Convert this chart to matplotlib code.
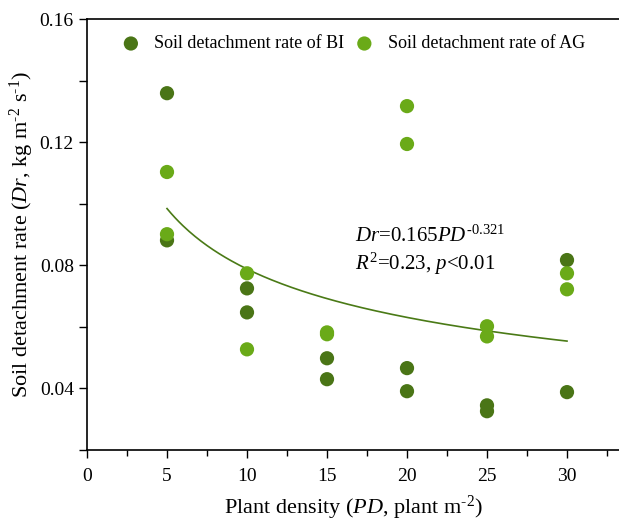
import numpy as np
import matplotlib.pyplot as plt
from matplotlib.ticker import MultipleLocator

plt.rcParams['font.family'] = 'Liberation Serif'
plt.rcParams['mathtext.fontset'] = 'custom'
plt.rcParams['mathtext.rm'] = 'Liberation Serif'
plt.rcParams['mathtext.it'] = 'Liberation Serif:italic'

# plant density (plants m-2) and measured detachment rates
bi_x = [5, 5, 10, 10, 15, 15, 20, 20, 25, 25, 30, 30]
bi_y = [0.1359, 0.0881, 0.0725, 0.0647, 0.0498, 0.0430,
        0.0466, 0.0391, 0.0345, 0.0326, 0.0817, 0.0388]
ag_x = [5, 5, 10, 10, 15, 15, 20, 20, 25, 25, 30, 30]
ag_y = [0.1103, 0.0901, 0.0774, 0.0527, 0.0582, 0.0576,
        0.1317, 0.1194, 0.0602, 0.0569, 0.0774, 0.0722]

# fitted power function Dr = a * PD^b
fit_a = 0.165
fit_b = -0.321

bi_col = '#4a7516'
ag_col = '#6aaa18'

fig = plt.figure(figsize=(6.19, 5.23), dpi=100)
ax = fig.add_axes([87/619, 1 - 450/523, 1 - 87/619, (450 - 19)/523])

ax.scatter(bi_x, bi_y, s=105, color=bi_col, edgecolors='none', zorder=3,
           label='Soil detachment rate of BI')
ax.scatter(ag_x, ag_y, s=105, color=ag_col, edgecolors='none', zorder=3,
           label='Soil detachment rate of AG')

xx = np.linspace(5, 30, 200)
ax.plot(xx, fit_a * xx ** fit_b, color='#4a7a16', lw=1.2, zorder=2)

ax.set_xlim(0, 33.25)
ax.set_ylim(0.02, 0.16)
ax.xaxis.set_major_locator(MultipleLocator(5))
ax.xaxis.set_minor_locator(MultipleLocator(2.5))
ax.yaxis.set_major_locator(MultipleLocator(0.04))
ax.yaxis.set_minor_locator(MultipleLocator(0.02))
ax.yaxis.set_major_formatter(plt.FuncFormatter(lambda v, p: '%.2f' % v))
ax.tick_params(which='major', direction='out', length=6, width=1, labelsize=14)
ax.tick_params(which='minor', direction='out', length=4, width=1)
ax.tick_params(axis='y', which='minor', length=6)
ax.tick_params(axis='x', pad=7)
ax.spines['right'].set_visible(False)
for s in ['left', 'bottom', 'top']:
    ax.spines[s].set_linewidth(1.2)

ax.set_xlabel('Plant density ($\\mathit{PD}$, plant m$^{\\mathrm{\u20102}}$)', fontsize=16, labelpad=6)
ax.set_ylabel('Soil detachment rate ($\\mathit{Dr}$, kg m$^{\\mathrm{\u20102}}$ s$^{\\mathrm{\u20101}}$)',
              fontsize=16)
ax.yaxis.set_label_coords(-0.096, 0.5)

ax.text(0.503, 0.497, '$\\mathit{Dr}$=0.165$\\mathit{PD}^{\\mathrm{\u20100.321}}$',
        transform=ax.transAxes, fontsize=15, va='center')
ax.text(0.503, 0.432, r'$\mathit{R}^{\mathrm{2}}$=0.23, $\mathit{p}$<0.01',
        transform=ax.transAxes, fontsize=15, va='center')

ax.legend(loc='upper left', bbox_to_anchor=(0.018, 1.0), ncol=2, frameon=False,
          fontsize=13, handletextpad=0.3, columnspacing=0.1, markerscale=1.0)

fig.savefig('out.png', dpi=100)
